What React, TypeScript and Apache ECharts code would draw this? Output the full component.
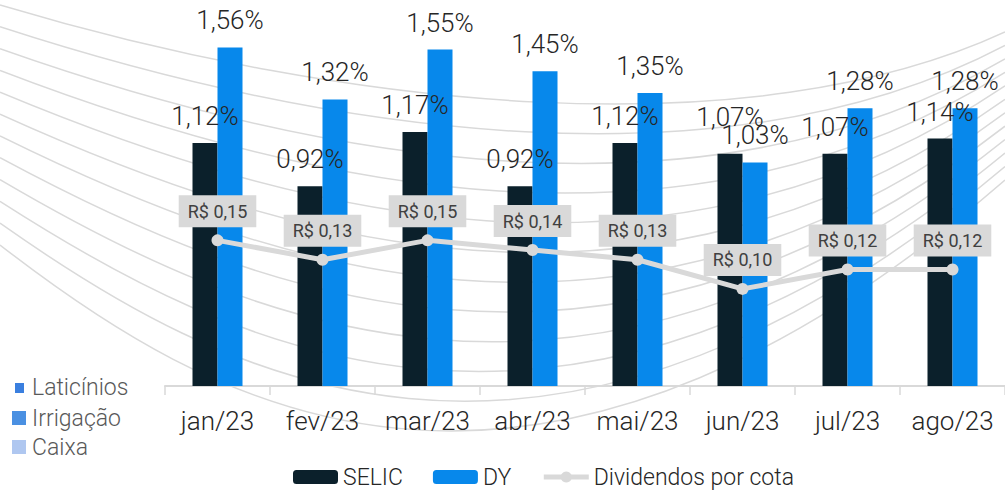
import React, { useEffect, useRef } from 'react';
import * as echarts from 'echarts';

const months = ['jan/23', 'fev/23', 'mar/23', 'abr/23', 'mai/23', 'jun/23', 'jul/23', 'ago/23'];
const selic = [1.12, 0.92, 1.17, 0.92, 1.12, 1.07, 1.07, 1.14];
const dy = [1.56, 1.32, 1.55, 1.45, 1.35, 1.03, 1.28, 1.28];
const dividendos = [0.15, 0.13, 0.15, 0.14, 0.13, 0.1, 0.12, 0.12];
const ghostLegend = ['Laticínios', 'Irrigação', 'Caixa'];

const FONT = 'Roboto';
const pct = (v: number) => v.toFixed(2).replace('.', ',') + '%';
const brl = (v: number) => 'R$ ' + v.toFixed(2).replace('.', ',');

function backgroundCurves() {
  const els: any[] = [];
  const n = 12;
  const top = { yL: 5, x1: 350, y1: 110, x2: 750, y2: 150, yR: 32 };
  const bot = { yL: 245, x1: 200, y1: 400, x2: 520, y2: 600, yR: 180 };
  for (let i = 0; i < n; i++) {
    const f = i / (n - 1);
    const m = (a: number, b: number) => a + (b - a) * f;
    els.push({
      type: 'bezierCurve',
      silent: true,
      z: -10,
      shape: {
        x1: 0,
        y1: m(top.yL, bot.yL),
        cpx1: m(top.x1, bot.x1),
        cpy1: m(top.y1, bot.y1),
        cpx2: m(top.x2, bot.x2),
        cpy2: m(top.y2, bot.y2),
        x2: 1005,
        y2: m(top.yR, bot.yR),
      },
      style: { stroke: '#d9d9d9', lineWidth: 1.5, fill: null },
    });
  }
  return els;
}

function ghostLegendEls() {
  const colors = ['#3a7fdf', '#4a90e2', '#afc7f0'];
  const rects = [
    { x: 15, y: 383, w: 9, h: 10 },
    { x: 12, y: 411, w: 14, h: 14 },
    { x: 12, y: 440, w: 14, h: 14 },
  ];
  const textY = [387, 418, 447];
  const els: any[] = [];
  ghostLegend.forEach((name, i) => {
    els.push({
      type: 'rect',
      silent: true,
      shape: { x: rects[i].x, y: rects[i].y, width: rects[i].w, height: rects[i].h },
      style: { fill: colors[i] },
    });
    els.push({
      type: 'text',
      silent: true,
      x: 32,
      y: textY[i],
      style: {
        text: name,
        fontSize: 23,
        fontFamily: FONT,
        fontWeight: 300,
        fill: '#595959',
        verticalAlign: 'middle',
        align: 'left',
      },
    });
  });
  return els;
}

export default function App() {
  const ref = useRef<HTMLDivElement>(null);
  useEffect(() => {
    document.body.style.margin = '0';
    const chart = echarts.init(ref.current!, null, { renderer: 'svg' });
    const barLabel = {
      show: true,
      position: 'top',
      distance: 12,
      fontSize: 26,
      lineHeight: 30,
      fontFamily: FONT,
      fontWeight: 300,
      color: '#262626',
      formatter: (p: any) => pct(p.value),
    };
    chart.setOption({
      animation: false,
      backgroundColor: '#ffffff',
      textStyle: { fontFamily: FONT },
      graphic: [...backgroundCurves(), ...ghostLegendEls()],
      grid: { left: 165, right: 0, top: 17, bottom: 108 },
      legend: {
        left: 293,
        top: 465,
        padding: 0,
        itemWidth: 45,
        itemHeight: 14,
        itemGap: 30,
        lineStyle: { width: 5 },
        textStyle: { fontSize: 23, lineHeight: 24, fontFamily: FONT, fontWeight: 300, color: '#262626' },
        data: ['SELIC', 'DY', 'Dividendos por cota'],
      },
      xAxis: {
        type: 'category',
        data: months,
        axisLine: { lineStyle: { color: '#d9d9d9', width: 2 } },
        axisTick: { show: true, length: 9, lineStyle: { color: '#d9d9d9', width: 1.5 } },
        axisLabel: {
          interval: 0,
          fontSize: 26,
          lineHeight: 30,
          fontFamily: FONT,
          fontWeight: 300,
          color: '#262626',
          margin: 20,
        },
      },
      yAxis: [
        { type: 'value', min: 0, max: 1.7, show: false },
        { type: 'value', min: 0, max: 0.38, show: false },
      ],
      series: [
        {
          name: 'SELIC',
          type: 'bar',
          barWidth: 25,
          barGap: '0%',
          itemStyle: { color: '#0b202b' },
          label: barLabel,
          data: selic.map((v, i) => (i === 5 ? { value: v, label: { distance: 22 } } : v)),
          z: 2,
        },
        {
          name: 'DY',
          type: 'bar',
          barWidth: 25,
          barGap: '0%',
          itemStyle: { color: '#0788eb' },
          label: barLabel,
          data: dy,
          z: 2,
        },
        {
          name: 'Dividendos por cota',
          type: 'line',
          yAxisIndex: 1,
          data: dividendos,
          symbol: 'circle',
          symbolSize: 12,
          lineStyle: { color: '#d9d9d9', width: 5 },
          itemStyle: { color: '#d9d9d9' },
          z: 5,
          label: {
            show: true,
            position: 'top',
            distance: 7,
            fontSize: 18,
            lineHeight: 20,
            fontFamily: FONT,
            color: '#404040',
            backgroundColor: '#d9d9d9',
            padding: [6, 9],
            formatter: (p: any) => brl(p.value),
          },
        },
      ],
    });
    return () => chart.dispose();
  }, []);
  return <div ref={ref} style={{ width: 1005, height: 494 }} />;
}
